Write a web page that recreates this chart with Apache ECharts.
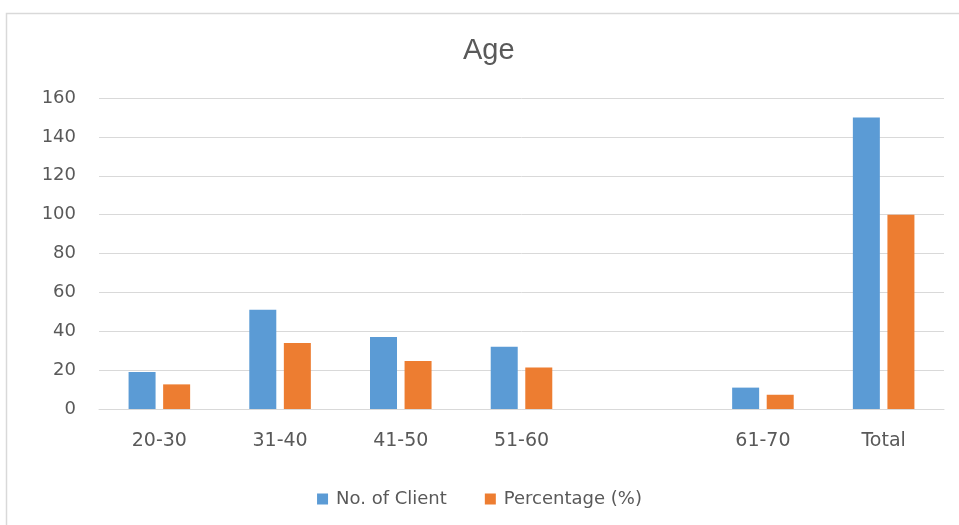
<!DOCTYPE html>
<html>
<head>
<meta charset="utf-8">
<script src="https://cdn.jsdelivr.net/npm/echarts@6/dist/echarts.min.js"></script>
<style>
  html, body { margin: 0; padding: 0; background: #fff; }
  #chart { width: 959px; height: 525px; }
</style>
</head>
<body>
<div id="chart"></div>
<script>
// Age groups (the blank slot leaves a gap before 61-70)
const categories = ['20-30', '31-40', '41-50', '51-60', '', '61-70', 'Total'];
const clients = [19, 51, 37, 32, null, 11, 150];
const percentage = [12.67, 34, 24.67, 21.33, null, 7.33, 100];
const yTicks = { min: 0, max: 160, interval: 20 };

const axisFont = '"DejaVu Sans", Verdana, sans-serif';
const titleFont = '"Liberation Sans", Arial, sans-serif';
const textColor = '#595959';

const chart = echarts.init(document.getElementById('chart'), null, { renderer: 'canvas' });
chart.setOption({
  animation: false,
  backgroundColor: '#ffffff',
  graphic: [{
    type: 'rect',
    shape: { x: 6.5, y: 13.5, width: 960, height: 520 },
    style: { fill: 'none', stroke: '#d9d9d9', lineWidth: 1.5 },
    silent: true
  }],
  title: {
    text: 'Age',
    left: 458,
    top: 31,
    textStyle: { fontFamily: titleFont, fontSize: 29, fontWeight: 'normal', color: textColor }
  },
  legend: {
    top: 485,
    left: 'center',
    itemWidth: 11,
    itemHeight: 11,
    itemGap: 38,
    icon: 'rect',
    textStyle: { fontFamily: axisFont, fontSize: 18, color: textColor, padding: [0, 0, 0, 3] }
  },
  grid: { left: 99, right: 15, top: 98, bottom: 116, containLabel: false },
  xAxis: {
    type: 'category',
    data: categories,
    axisLine: { lineStyle: { color: '#d9d9d9', width: 1 } },
    axisTick: { show: false },
    axisLabel: { fontFamily: axisFont, fontSize: 19, color: textColor, margin: 23 }
  },
  yAxis: {
    type: 'value',
    min: yTicks.min,
    max: yTicks.max,
    interval: yTicks.interval,
    axisLine: { show: false },
    axisTick: { show: false },
    splitLine: { lineStyle: { color: '#d9d9d9', width: 1 } },
    axisLabel: { fontFamily: axisFont, fontSize: 18, color: textColor, margin: 23, padding: [3, 0, 0, 0] }
  },
  series: [
    {
      name: 'No. of Client',
      type: 'bar',
      data: clients,
      barWidth: 27,
      barGap: '28%',
      itemStyle: { color: '#5B9BD5' }
    },
    {
      name: 'Percentage (%)',
      type: 'bar',
      data: percentage,
      barWidth: 27,
      itemStyle: { color: '#ED7D31' }
    }
  ]
});
</script>
</body>
</html>
